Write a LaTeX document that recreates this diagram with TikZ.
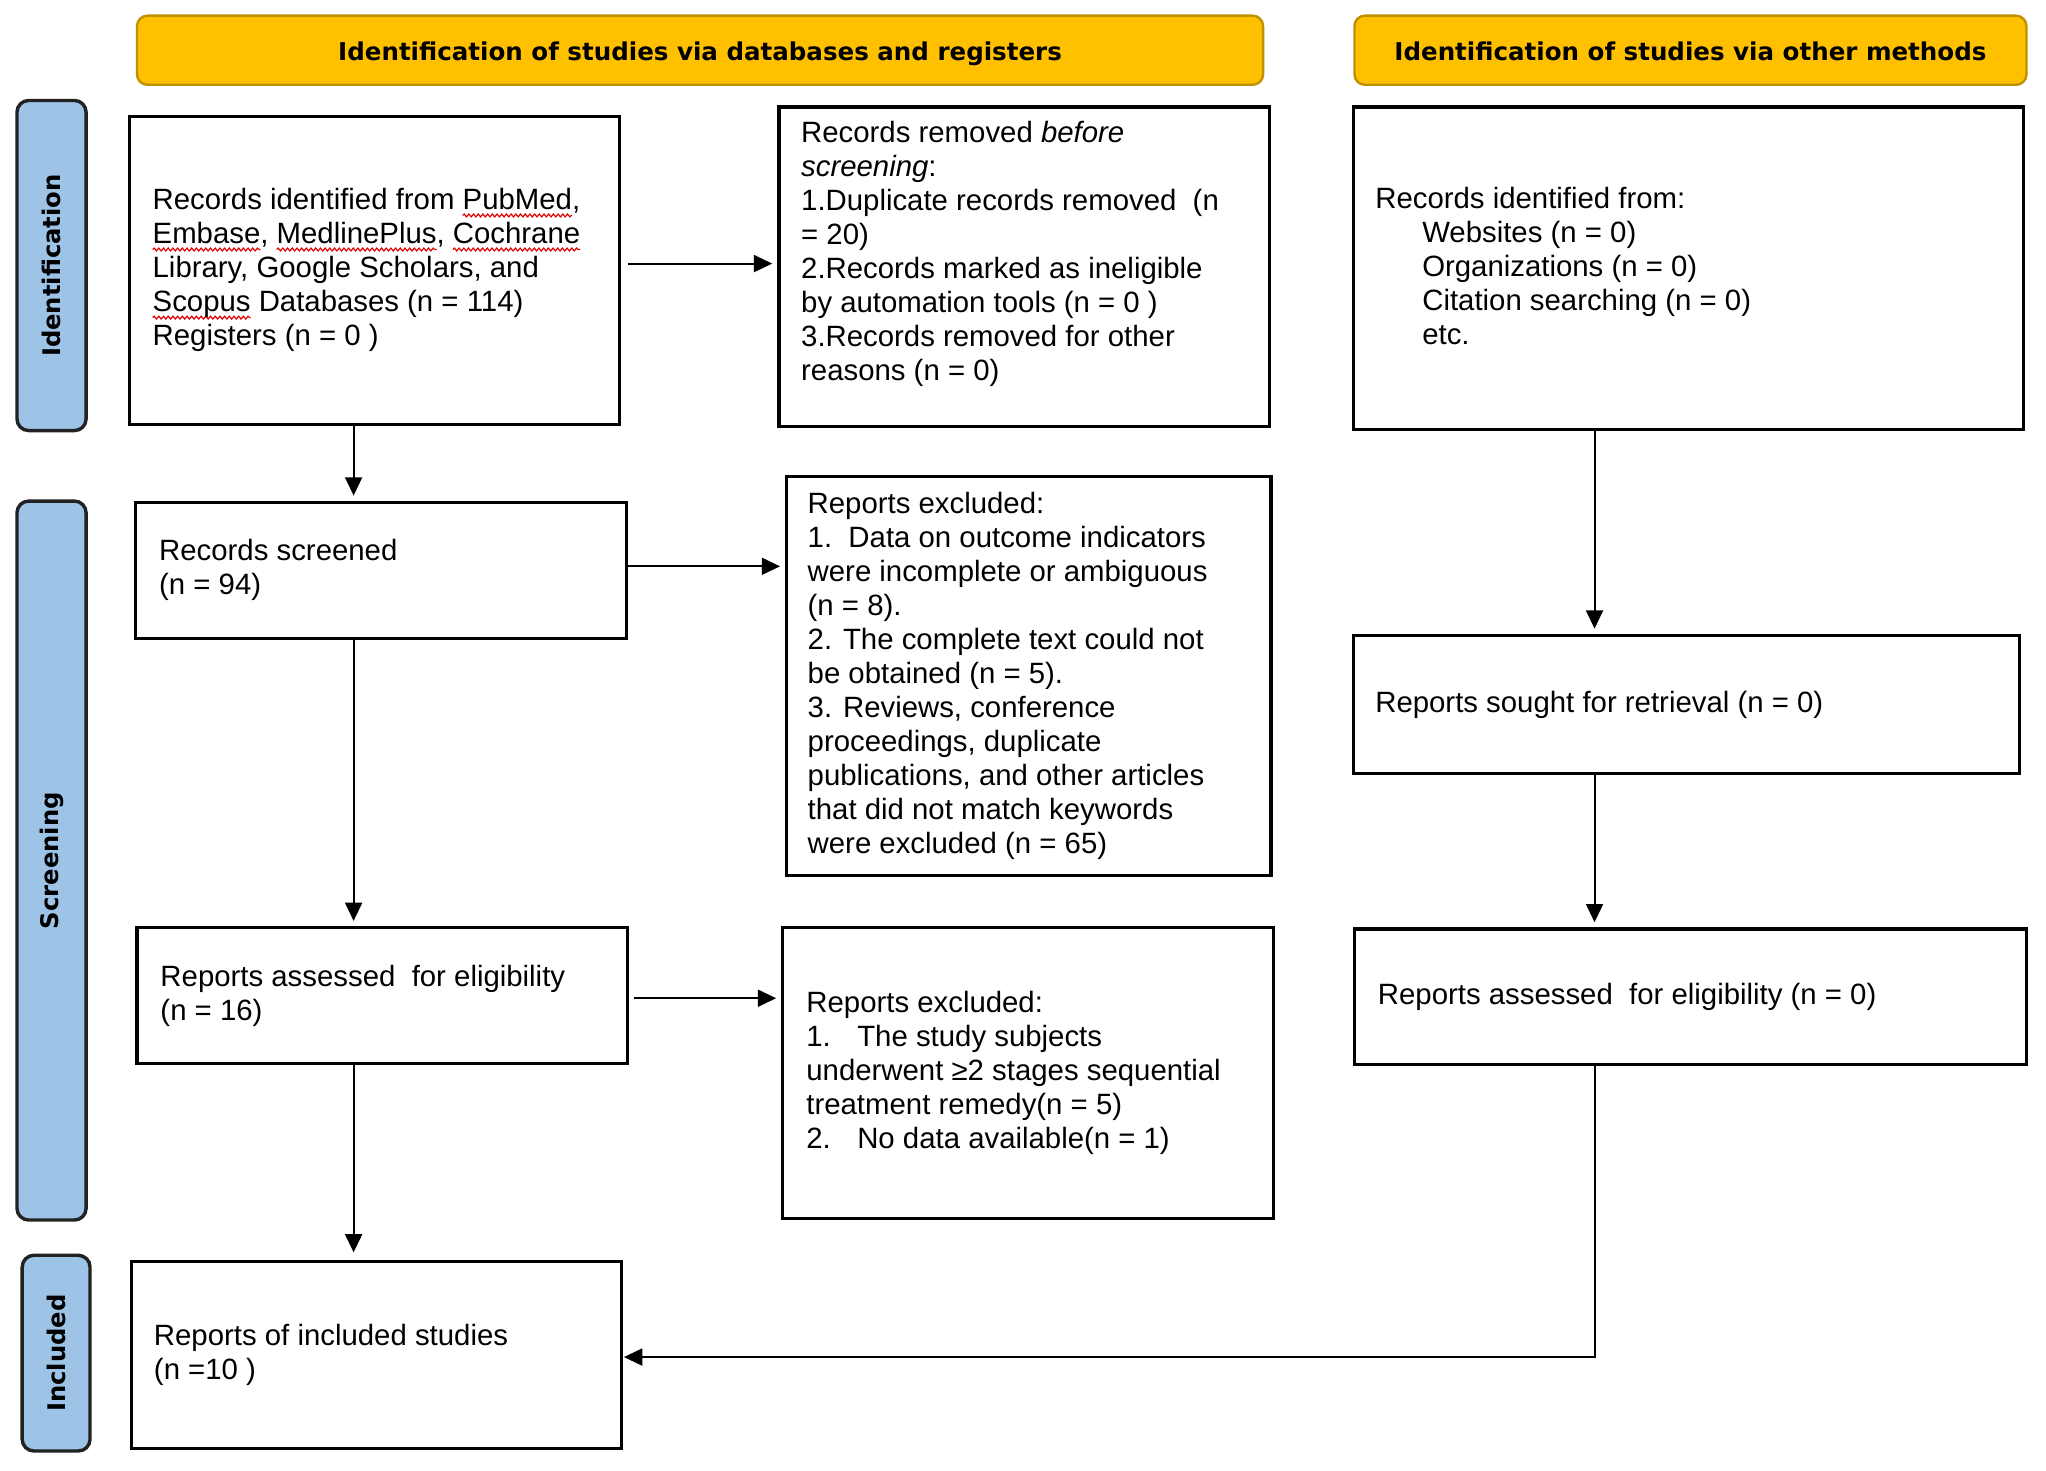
\documentclass[tikz,border=0pt]{standalone}
\usepackage{fontspec}
\setmainfont{Liberation Sans}
\newfontfamily\sidefont{DejaVu Sans}
\usetikzlibrary{arrows.meta,decorations.pathmorphing}
\definecolor{hdrfill}{HTML}{FFC000}
\definecolor{hdrdraw}{HTML}{BF9000}
\definecolor{sidefill}{HTML}{9DC3E6}
\definecolor{sidedraw}{HTML}{222222}
\definecolor{squigred}{HTML}{E00000}
\newsavebox\sqbox
\newcommand\squig[1]{\sbox\sqbox{#1}\rlap{\tikz[overlay,baseline=0pt]\draw[squigred,line width=0.9pt,decorate,decoration={snake,amplitude=1.1pt,segment length=3.6pt}] (0pt,-4.5pt)--(\wd\sqbox,-4.5pt);}\usebox\sqbox}
\begin{document}
\begin{tikzpicture}[x=1pt,y=-1pt,
  box/.style={draw=black,line width=2.4pt,fill=white,inner sep=0pt},
  txt/.style={align=left,inner sep=0pt,anchor=west,font=\fontsize{22.5}{26.1}\selectfont},
  hdr/.style={draw=hdrdraw,line width=1.8pt,fill=hdrfill,rounded corners=8pt,inner sep=0pt,text height=17pt,text depth=1.5pt,font=\sidefont\bfseries\fontsize{18.8}{22}\selectfont},
  side/.style={draw=sidedraw,line width=2.6pt,fill=sidefill,rounded corners=9pt,inner sep=0pt},
  sidetxt/.style={rotate=90,font=\sidefont\bfseries\fontsize{18.6}{20}\selectfont,inner sep=0pt},
  arr/.style={line width=1.5pt,-{Triangle[length=14pt,width=13pt]},shorten >=4pt}]
\fill[white] (0,0) rectangle (1568,1127);
\useasboundingbox (0,0) rectangle (1568,1127);

% headers
\node[hdr,minimum width=863pt,minimum height=53pt] (h1) at (536.5,38.5) {Identification of studies via databases and registers};
\node[hdr,minimum width=515pt,minimum height=53pt] (h2) at (1295.5,38.5) {Identification of studies via other methods};

% side bars
\node[side,minimum width=53pt,minimum height=253pt] (s1) at (39.5,203.5) {};
\node[sidetxt] (s1t) at (s1.center) {Identification};
\node[side,minimum width=53pt,minimum height=551pt] (s2) at (39.5,659.5) {};
\node[sidetxt] (s2t) at (s2.center) {Screening};
\node[side,minimum width=52pt,minimum height=150pt] (s3) at (43,1037) {};
\node[sidetxt] (s3t) at (s3.center) {Included};

% boxes
\node[box,minimum width=376pt,minimum height=236pt] (b1) at (287,207) {};
\node[box,minimum width=376pt,minimum height=245pt] (b2) at (785,204.5) {};
\node[box,minimum width=514pt,minimum height=247pt] (b3) at (1294,205.5) {};
\node[box,minimum width=376pt,minimum height=104pt] (b4) at (292,437) {};
\node[box,minimum width=371pt,minimum height=306pt] (b5) at (788.5,518) {};
\node[box,minimum width=511pt,minimum height=106pt] (b6) at (1292.5,540) {};
\node[box,minimum width=376pt,minimum height=104pt] (b7) at (293,763) {};
\node[box,minimum width=376pt,minimum height=223pt] (b8) at (788,822.5) {};
\node[box,minimum width=515pt,minimum height=104pt] (b9) at (1295.5,764) {};
\node[box,minimum width=375pt,minimum height=143pt] (b10) at (288.5,1038.5) {};

% texts
\node[txt] (t1) at ([xshift=19pt]b1.west) {Records identified from \squig{PubMed},\\
\squig{Embase}, \squig{MedlinePlus}, \squig{Cochrane}\\
Library, Google Scholars, and\\
\squig{Scopus} Databases (n = 114)\\
Registers (n = 0 )};
\node[txt] (t2) at ([xshift=18pt,yshift=10pt]b2.west) {Records removed \textit{before}\\
\textit{screening}:\\
1.Duplicate records removed\ \ (n\\
= 20)\\
2.Records marked as ineligible\\
by automation tools (n = 0 )\\
3.Records removed for other\\
reasons (n = 0)};
\node[txt] (t3) at ([xshift=18pt,yshift=1.5pt]b3.west) {Records identified from:\\
\hspace*{36pt}Websites (n = 0)\\
\hspace*{36pt}Organizations (n = 0)\\
\hspace*{36pt}Citation searching (n = 0)\\
\hspace*{36pt}etc.};
\node[txt] (t4) at ([xshift=19pt]b4.west) {Records screened\\(n = 94)};
\node[txt] (t5) at ([xshift=17pt]b5.west) {Reports excluded:\\
1.\ \ Data on outcome indicators\\
were incomplete or ambiguous\\
(n = 8).\\
2. The complete text could not\\
be obtained (n = 5).\\
3. Reviews, conference\\
proceedings, duplicate\\
publications, and other articles\\
that did not match keywords\\
were excluded (n = 65)};
\node[txt] (t6) at ([xshift=18pt]b6.west) {Reports sought for retrieval (n = 0)};
\node[txt] (t7) at ([xshift=19pt]b7.west) {Reports assessed\ \ for eligibility\\(n = 16)};
\node[txt] (t8) at ([xshift=19pt]b8.west) {Reports excluded:\\
\makebox[39pt][l]{1.}The study subjects\\
underwent ≥2 stages sequential\\
treatment remedy(n = 5)\\
\makebox[39pt][l]{2.}No data available(n = 1)};
\node[txt] (t9) at ([xshift=19pt]b9.west) {Reports assessed\ \ for eligibility (n = 0)};
\node[txt] (t10) at ([xshift=18pt]b10.west) {Reports of included studies\\(n =10 )};

% connectors
\coordinate (cl) at (271,0);
\coordinate (cr) at (1222,0);
\coordinate (r1) at (0,202);
\coordinate (r2) at (0,434);
\coordinate (r3) at (0,765);
\coordinate (r4) at (0,1040);
\draw[arr,shorten <=5pt] (b1.east |- r1) -- (b2.west |- r1);
\draw[arr] (b1.south -| cl) -- (b4.north -| cl);
\draw[arr] (b4.east |- r2) -- (b5.west |- r2);
\draw[arr] (b4.south -| cl) -- (b7.north -| cl);
\draw[arr,shorten <=4pt] (b7.east |- r3) -- (b8.west |- r3);
\draw[arr,shorten >=6pt] (b7.south -| cl) -- (b10.north -| cl);
\draw[arr] (b3.south -| cr) -- (b6.north -| cr);
\draw[arr] (b6.south -| cr) -- (b9.north -| cr);
\draw[arr,shorten >=1pt] (b9.south -| cr) |- (b10.east |- r4);
\end{tikzpicture}
\end{document}
